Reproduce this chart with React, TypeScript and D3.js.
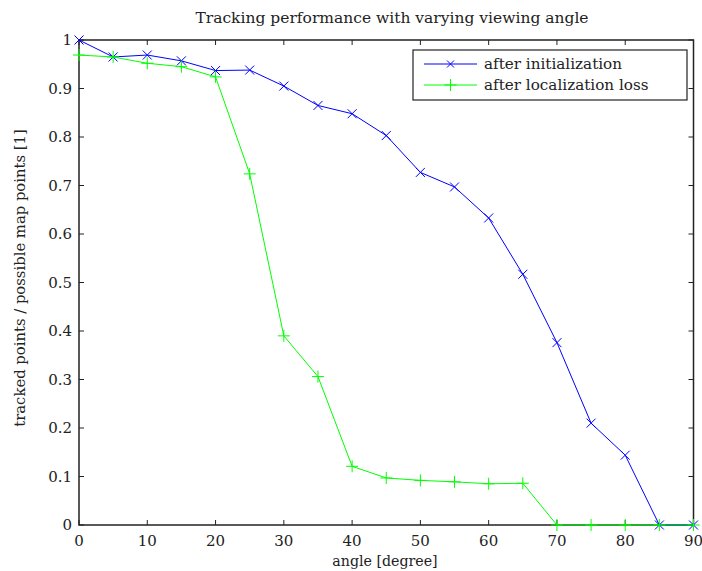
import React from "react";
import * as d3 from "d3";

const angles = [0, 5, 10, 15, 20, 25, 30, 35, 40, 45, 50, 55, 60, 65, 70, 75, 80, 85, 90];
const afterInit = [1.0, 0.965, 0.969, 0.957, 0.937, 0.938, 0.905, 0.865, 0.848, 0.803, 0.727, 0.697, 0.633, 0.517, 0.376, 0.21, 0.144, 0, 0];
const afterLoss = [0.969, 0.965, 0.952, 0.945, 0.924, 0.724, 0.39, 0.306, 0.121, 0.097, 0.092, 0.089, 0.085, 0.086, 0, 0, 0, 0, 0];
const xTicks = [0, 10, 20, 30, 40, 50, 60, 70, 80, 90];
const yTicks = [0, 0.1, 0.2, 0.3, 0.4, 0.5, 0.6, 0.7, 0.8, 0.9, 1];
const seriesNames = ["after initialization", "after localization loss"];

const W = 702, H = 571;
const L = 79, R = 693.5, T = 40, B = 525;
const FONT = "DejaVu Serif";

export default function App() {
  const x = d3.scaleLinear().domain([0, 90]).range([L, R]);
  const y = d3.scaleLinear().domain([0, 1]).range([B, T]);
  const line = d3.line<number>().x((_, i) => x(angles[i])).y((d) => y(d));
  const tk = 5;
  const cross = (cx: number, cy: number, s: number, color: string, key: string) => (
    <path key={key} d={`M${cx - s},${cy - s}L${cx + s},${cy + s}M${cx - s},${cy + s}L${cx + s},${cy - s}`} stroke={color} strokeWidth={1} fill="none" />
  );
  const plus = (cx: number, cy: number, s: number, color: string, key: string) => (
    <path key={key} d={`M${cx - s},${cy}L${cx + s},${cy}M${cx},${cy - s}L${cx},${cy + s}`} stroke={color} strokeWidth={1} fill="none" />
  );
  return (
    <svg width={W} height={H} style={{ position: "absolute", left: 0, top: 0, background: "#fff", fontFamily: FONT }}>
      <rect x={0} y={0} width={W} height={H} fill="#fff" />
      <text x={392} y={23} textAnchor="middle" fontSize={15.5} fill="#222" style={{ fontFamily: FONT }}>Tracking performance with varying viewing angle</text>
      {xTicks.map((t) => (
        <g key={"xt" + t}>
          <line x1={x(t)} x2={x(t)} y1={B} y2={B - tk} stroke="#222" />
          <line x1={x(t)} x2={x(t)} y1={T} y2={T + tk} stroke="#222" />
          <text x={x(t)} y={B + 21} textAnchor="middle" fontSize={15} fill="#222" style={{ fontFamily: FONT }}>{t}</text>
        </g>
      ))}
      {yTicks.map((t) => (
        <g key={"yt" + t}>
          <line x1={L} x2={L + tk} y1={y(t)} y2={y(t)} stroke="#222" />
          <line x1={R} x2={R - tk} y1={y(t)} y2={y(t)} stroke="#222" />
          <text x={L - 7} y={y(t) + 5} textAnchor="end" fontSize={15} fill="#222" style={{ fontFamily: FONT }}>{String(t)}</text>
        </g>
      ))}
      <rect x={L} y={T} width={R - L} height={B - T} fill="none" stroke="#222" strokeWidth={1.5} />
      <text x={385} y={566} textAnchor="middle" fontSize={14.2} fill="#222" style={{ fontFamily: FONT }}>angle [degree]</text>
      <text transform={`translate(25,278) rotate(-90)`} textAnchor="middle" fontSize={14.8} fill="#222" style={{ fontFamily: FONT }}>tracked points / possible map points [1]</text>
      <path d={line(afterInit) || ""} stroke="#0000ff" fill="none" strokeWidth={1} />
      {afterInit.map((v, i) => cross(x(angles[i]), y(v), 4.5, "#0000ff", "c" + i))}
      <path d={line(afterLoss) || ""} stroke="#00ff00" fill="none" strokeWidth={1} />
      {afterLoss.map((v, i) => plus(x(angles[i]), y(v), 6, "#00ff00", "p" + i))}
      <g>
        <rect x={413} y={50} width={274} height={50} fill="#fff" stroke="#222" strokeWidth={1.2} />
        <line x1={424} x2={477} y1={64} y2={64} stroke="#0000ff" />
        {cross(450.5, 64, 3.5, "#0000ff", "lc")}
        <text x={484} y={69} fontSize={15.2} fill="#222" style={{ fontFamily: FONT }}>{seriesNames[0]}</text>
        <line x1={424} x2={477} y1={85} y2={85} stroke="#00ff00" />
        {plus(450.5, 85, 6, "#00ff00", "lp")}
        <text x={484} y={90} fontSize={15.2} fill="#222" style={{ fontFamily: FONT }}>{seriesNames[1]}</text>
      </g>
    </svg>
  );
}
